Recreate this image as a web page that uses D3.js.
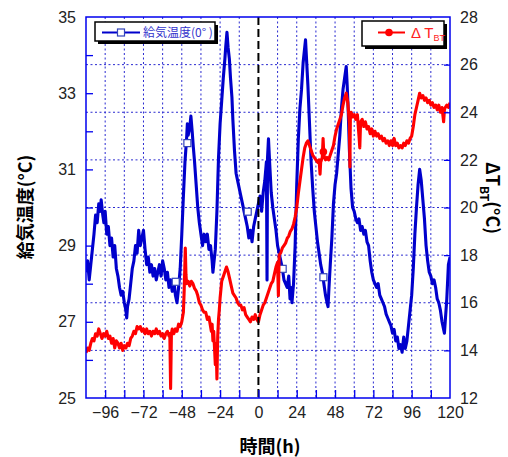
<!DOCTYPE html>
<html><head><meta charset="utf-8">
<script src="https://cdn.jsdelivr.net/npm/d3@7"></script>
<style>
body{margin:0;background:#fff;}
svg{display:block;}
.num{font-family:"Liberation Sans Narrow","Arial Narrow","Liberation Sans",sans-serif;font-size:16px;fill:#222;}
.ttl{font-family:"Noto Sans CJK JP",sans-serif;font-weight:bold;font-size:18px;fill:#000;}
</style></head>
<body><svg id="c" width="508" height="457"></svg>
<script>
// ---- data ----
const blueT = [-108,-107,-106,-105,-104,-103,-102,-101,-100,-99,-98.5,-97.5,-96.8,-96,-95,-94,-93,-92,-91,-90,-89,-88,-87,-86,-85,-84,-83,-82.5,-82,-81,-80,-79,-78,-77,-76,-75,-74,-73,-72,-71,-70,-69,-68,-67,-66,-65,-64,-63,-62,-61,-60,-59,-58,-57,-56,-55,-54,-53,-52,-51,-50,-49,-48,-47,-46,-45,-44.5,-44,-43,-42.3,-41.5,-40.8,-40,-39,-38,-37,-36,-35,-34,-33,-32,-31,-30,-29,-28.5,-28,-27,-26,-25.5,-25,-24,-23,-22,-21,-20.5,-19.7,-19,-18.2,-17.5,-16.6,-16,-15,-14,-13,-12,-11,-10,-9,-8,-7,-6,-5,-4,-3,-2,-1,0,1,2,3,4,5,5.4,5.7,6.3,7,7.5,8,9,10,11,12,13,14,15,16,17,18,19,19.8,20.5,21,22,23,24,25,26,27,28,29,29.5,30,31,32,33,34,35,36,37,38,39,40,41,42,43,43.6,44.2,45,46,47,48,49,50,51,52,53,54,55,55.6,56.2,57,58,59,60,61,62,63,64,65,66,67,68,69,70,71,72,73,74,75,76,77,78,79,80,81,82,83,84,85,86,87,88,89,90,91,92,93,94,95,96,97,98,99,100,101,102,103,104,105,106,107,108,109,110,111,112,113,114,115,116,116.5,117,118,119,120];
const blueV = [28.3,28.6,28.1,28.5,28.9,29.3,29.8,29.6,30.1,29.9,30.2,29.8,29.6,29.9,29.3,29.5,29.0,29.2,28.7,29.0,28.4,28.2,27.9,27.7,27.8,27.5,27.3,27.1,27.4,27.6,28.0,28.4,28.6,29.0,28.8,29.4,29.0,29.2,29.4,28.9,28.5,28.7,28.3,28.5,28.2,28.4,28.1,28.3,28.5,28.2,28.6,28.4,28.1,28.3,27.9,28.1,27.8,28.1,27.7,27.5,27.9,28.4,29.3,30.3,31.2,31.8,32.2,31.9,32.1,32.4,32.0,31.6,31.2,30.6,30.0,29.6,29.3,29.0,29.3,29.1,29.3,28.9,29.0,28.6,28.3,28.5,28.9,29.9,30.6,31.3,32.2,32.8,33.4,33.9,34.2,34.6,34.2,33.9,33.4,32.9,32.3,31.5,30.9,30.7,30.5,30.3,30.1,29.9,29.7,29.5,29.2,29.4,29.1,29.5,29.7,29.9,30.1,30.3,29.9,30.4,30.7,31.2,28.1,31.3,31.8,31.2,30.8,30.4,30.0,29.7,29.4,29.0,28.8,28.6,28.4,28.1,28.0,27.9,28.2,27.6,27.9,27.5,28.0,29.0,30.6,31.8,32.6,33.1,33.8,34.2,34.4,34.0,33.2,32.2,31.2,30.5,29.9,29.5,29.1,28.8,28.5,28.3,28.0,27.7,27.5,27.4,27.9,28.5,29.2,30.1,30.6,30.9,31.4,31.9,32.6,33.1,33.4,33.7,33.2,32.6,31.5,30.5,30.0,29.9,29.7,29.6,29.7,29.4,29.5,29.3,29.4,29.1,29.0,28.6,28.3,28.1,28.0,27.9,28.0,27.7,27.6,27.5,27.4,27.2,27.1,27.0,26.9,26.7,26.8,26.5,26.6,26.3,26.4,26.2,26.6,26.3,26.5,26.9,27.3,27.7,28.4,29.3,30.0,30.6,31.0,30.7,30.2,29.7,29.0,28.6,28.3,28.2,28.0,28.1,27.9,27.6,27.5,27.3,27.0,26.8,26.7,27.0,27.6,28.5,28.7];
const redT = [-108,-107,-106,-105,-104,-103,-102,-101,-100,-99,-98,-97,-96,-95,-94,-93,-92,-91,-90,-89,-88,-87,-86,-85,-84,-83,-82,-81,-80,-79,-78,-77,-76,-75,-74,-73,-72,-71,-70,-69,-68,-67,-66,-65,-64,-63,-62,-61,-60,-59,-58,-57,-56,-55.5,-55,-54.5,-54,-53,-52,-51,-50,-49,-48,-47,-46.5,-45.8,-45.4,-45,-44,-43,-42,-41,-40,-39,-38,-37,-36,-35,-34,-33,-32,-31,-30,-29.5,-29,-28.5,-28,-27.5,-27,-26.5,-26,-25.5,-25,-24.5,-24,-23,-22,-21,-20,-19,-18,-17,-16,-15,-14,-13,-12,-11,-10,-9,-8,-7,-6,-5,-4,-3,-2,-1,0,1,2,3,4,5,6,7,8,9,10,11,12,12.5,13,14,15,16,17,18,19,20,21,22,23,24,25,26,27,28,29,30,31,32,33,34,35,36,37,38,38.6,39,40,40.5,41,42,43,44,45,46,47,48,49,50,51,52,53,54,55,56,57,57.3,57.6,58,59,60,61,62,63,63.5,64,65,66,67,68,69,70,71,72,73,74,75,76,77,78,79,80,81,82,83,84,85,86,87,88,89,90,91,92,93,94,95,96,97,98,99,100,101,102,103,104,105,106,107,108,109,110,111,112,113,114,115,116,116.5,117,118,119,120];
const redV = [13.9,14.1,14.0,14.3,14.5,14.4,14.7,14.6,14.9,14.7,14.5,14.7,14.6,14.8,14.5,14.6,14.3,14.5,14.1,14.4,14.3,14.1,14.3,14.0,14.2,14.1,14.3,14.2,14.5,14.6,14.8,14.7,15.0,14.9,15.0,14.8,14.9,14.7,14.9,14.7,14.8,14.6,14.8,14.7,14.9,14.7,14.8,14.6,14.7,14.5,14.7,14.8,14.6,14.7,12.4,14.7,14.9,14.7,14.9,14.8,15.1,15.0,15.2,15.6,16.5,18.3,17.2,16.8,16.9,16.7,16.9,16.8,16.6,16.5,16.3,16.0,15.9,15.7,15.6,15.6,15.3,15.4,15.0,14.8,15.1,14.4,14.8,14.1,13.4,14.3,12.8,14.6,15.3,15.7,16.2,16.9,17.1,17.3,17.5,17.3,17.0,16.7,16.4,16.3,16.2,16.0,15.9,15.9,15.7,15.8,15.5,15.4,15.3,15.2,15.4,15.3,15.5,15.3,15.2,15.5,15.7,15.9,16.0,16.2,16.4,16.6,16.8,16.9,17.2,17.5,17.7,16.3,18.0,18.1,18.3,18.4,18.5,18.7,18.8,19.0,19.1,19.3,19.6,20.0,20.6,21.1,21.6,22.1,22.5,22.7,22.8,22.6,22.4,22.2,22.1,22.0,21.9,22.0,21.4,21.9,22.1,22.9,22.2,22.0,22.1,22.0,22.2,22.4,22.6,23.0,23.3,23.5,23.7,23.9,24.3,24.6,24.8,24.4,23.5,21.7,23.8,24.0,23.8,23.9,23.7,23.9,23.0,22.5,23.6,23.7,23.4,23.6,23.3,23.4,23.1,23.3,23.0,23.2,23.0,23.1,22.9,23.0,22.8,22.9,22.7,22.8,22.6,22.8,22.6,22.9,22.6,22.7,22.5,22.6,22.5,22.7,22.6,22.8,22.7,22.9,23.0,23.4,23.9,24.2,24.5,24.8,24.6,24.7,24.5,24.6,24.4,24.5,24.3,24.4,24.2,24.3,24.1,24.3,24.0,24.2,23.6,24.1,24.2,24.3,24.2,24.4];
const blueMarkT = [-51.8,-44.5,-6.7,15.2,40.7];
const blueMarkV = [28.05,31.69,29.89,28.39,28.17];
const redMarkT = [40.7];
const redMarkV = [22.34];
const xTicks = [-96,-72,-48,-24,0,24,48,72,96,120];
const yLTicks = [25,27,29,31,33,35];
const yRTicks = [12,14,16,18,20,22,24,26,28];
const blueName = "給気温度(0°\u00a0)";

// ---- layout ----
const L=86,R=450,T=17,B=398;
const svg=d3.select("#c");
const x=d3.scaleLinear().domain([-108,120]).range([L,R]);
const yL=d3.scaleLinear().domain([25,35]).range([B,T]);
const yR=d3.scaleLinear().domain([12,28]).range([B,T]);
const AX="#0000ee", GRID="#2a2ad0";

// grid
const g=svg.append("g");
g.selectAll(".vg").data(d3.range(-96,120,12).filter(d=>d!==0)).join("line")
 .attr("x1",d=>x(d)).attr("x2",d=>x(d)).attr("y1",T).attr("y2",B)
 .attr("stroke",GRID).attr("stroke-width",1).attr("stroke-dasharray","2,2.5");
g.selectAll(".hg").data(d3.range(14,28,2)).join("line")
 .attr("x1",L).attr("x2",R).attr("y1",d=>yR(d)).attr("y2",d=>yR(d))
 .attr("stroke",GRID).attr("stroke-width",1).attr("stroke-dasharray","2,2.5");

// clip
svg.append("clipPath").attr("id","clip").append("rect").attr("x",L).attr("y",T).attr("width",R-L).attr("height",B-T);
const pl=svg.append("g").attr("clip-path","url(#clip)");

const blue=blueT.map((t,i)=>[t,blueV[i]]);
const red=redT.map((t,i)=>[t,redV[i]]);
pl.append("path").datum(blue).attr("fill","none").attr("stroke","#0000cc").attr("stroke-width",3.1).attr("stroke-linejoin","round")
 .attr("d",d3.line().x(d=>x(d[0])).y(d=>yL(d[1])));
pl.selectAll(".bm").data(blueMarkT.map((t,i)=>[t,blueMarkV[i]])).join("rect")
 .attr("x",d=>x(d[0])-3.5).attr("y",d=>yL(d[1])-3.5).attr("width",7).attr("height",7)
 .attr("fill","#fff").attr("stroke","#3344bb").attr("stroke-width",1.2);
pl.append("path").datum(red).attr("fill","none").attr("stroke","#ff0000").attr("stroke-width",3.1).attr("stroke-linejoin","round")
 .attr("d",d3.line().x(d=>x(d[0])).y(d=>yR(d[1])));
pl.selectAll(".rm").data(redMarkT.map((t,i)=>[t,redMarkV[i]])).join("circle")
 .attr("cx",d=>x(d[0])).attr("cy",d=>yR(d[1])).attr("r",3.8).attr("fill","#ff0000");

// dashed zero line
svg.append("line").attr("x1",x(0)).attr("x2",x(0)).attr("y1",T).attr("y2",B)
 .attr("stroke","#000").attr("stroke-width",2).attr("stroke-dasharray","8,4");

// frame
svg.append("rect").attr("x",L).attr("y",T).attr("width",R-L).attr("height",B-T)
 .attr("fill","none").attr("stroke",AX).attr("stroke-width",1.5);

// inward ticks
const tk=svg.append("g").attr("stroke",AX).attr("stroke-width",1.3);
tk.append("g").attr("transform",`translate(${L},0)`).call(d3.axisRight(yL).tickValues(d3.range(26,35,1)).tickSize(7).tickFormat(""));
tk.append("g").attr("transform",`translate(${R},0)`).call(d3.axisLeft(yR).tickValues(d3.range(14,28,2)).tickSize(6).tickFormat(""));
tk.append("g").attr("transform",`translate(0,${B})`).call(d3.axisTop(x).tickValues(d3.range(-96,120,12)).tickSize(8).tickFormat(""));
tk.selectAll(".domain").remove();
tk.selectAll("line").attr("stroke",AX).attr("stroke-width",1.3);

// labels
const lab=(sel)=>{sel.select(".domain").remove();sel.selectAll("line").remove();sel.selectAll("text").attr("class","num").attr("fill",null);};
svg.append("g").attr("transform",`translate(${L},0)`).call(d3.axisLeft(yL).tickValues(yLTicks).tickSize(0).tickPadding(10)).call(lab);
svg.append("g").attr("transform",`translate(${R},0)`).call(d3.axisRight(yR).tickValues(yRTicks).tickSize(0).tickPadding(10)).call(lab);
svg.append("g").attr("transform",`translate(0,${B})`).call(d3.axisBottom(x).tickValues(xTicks).tickSize(0).tickPadding(9)).call(lab);
svg.selectAll("g text").attr("font-family",null).attr("font-size",null);

// titles
svg.append("text").attr("class","ttl").attr("transform","translate(32,207) rotate(-90)").attr("text-anchor","middle").text("給気温度(°C)");
svg.append("text").attr("class","ttl").attr("x",270).attr("y",453).attr("text-anchor","middle").text("時間(h)");
const rt=svg.append("text").attr("class","ttl").attr("transform","translate(486,198) rotate(90)").attr("text-anchor","middle");
rt.append("tspan").text("ΔT");
rt.append("tspan").attr("dy",6).attr("font-size",12).text("BT");
rt.append("tspan").attr("dy",-6).text("(°C)");

// legends
function legend(x0,y0,w,h){
  svg.append("rect").attr("x",x0+3).attr("y",y0+3).attr("width",w).attr("height",h).attr("fill","#000");
  svg.append("rect").attr("x",x0).attr("y",y0).attr("width",w).attr("height",h).attr("fill","#fff").attr("stroke","#000").attr("stroke-width",1.5);
}
legend(95,22,120,19);
svg.append("line").attr("x1",102).attr("x2",140).attr("y1",32.5).attr("y2",32.5).attr("stroke","#0000cc").attr("stroke-width",2);
svg.append("rect").attr("x",117.5).attr("y",29).attr("width",7).attr("height",7).attr("fill","#fff").attr("stroke","#3344bb").attr("stroke-width",1.2);
svg.append("text").attr("x",143).attr("y",37).attr("font-family","Noto Sans CJK JP,sans-serif").attr("font-size",12).attr("fill","#3333cc").text(blueName);

legend(362,21,82,25);
svg.append("line").attr("x1",378).attr("x2",405).attr("y1",32.5).attr("y2",32.5).attr("stroke","#ff0000").attr("stroke-width",2);
svg.append("circle").attr("cx",389).attr("cy",32.5).attr("r",3.8).attr("fill","#ff0000");
const lt=svg.append("text").attr("x",411).attr("y",38).attr("font-family","Liberation Sans Narrow,Liberation Sans,sans-serif").attr("font-size",15).attr("fill","#ff2020");
lt.append("tspan").text("Δ T");
lt.append("tspan").attr("dy",3).attr("font-size",9).text("BT");
</script></body></html>
